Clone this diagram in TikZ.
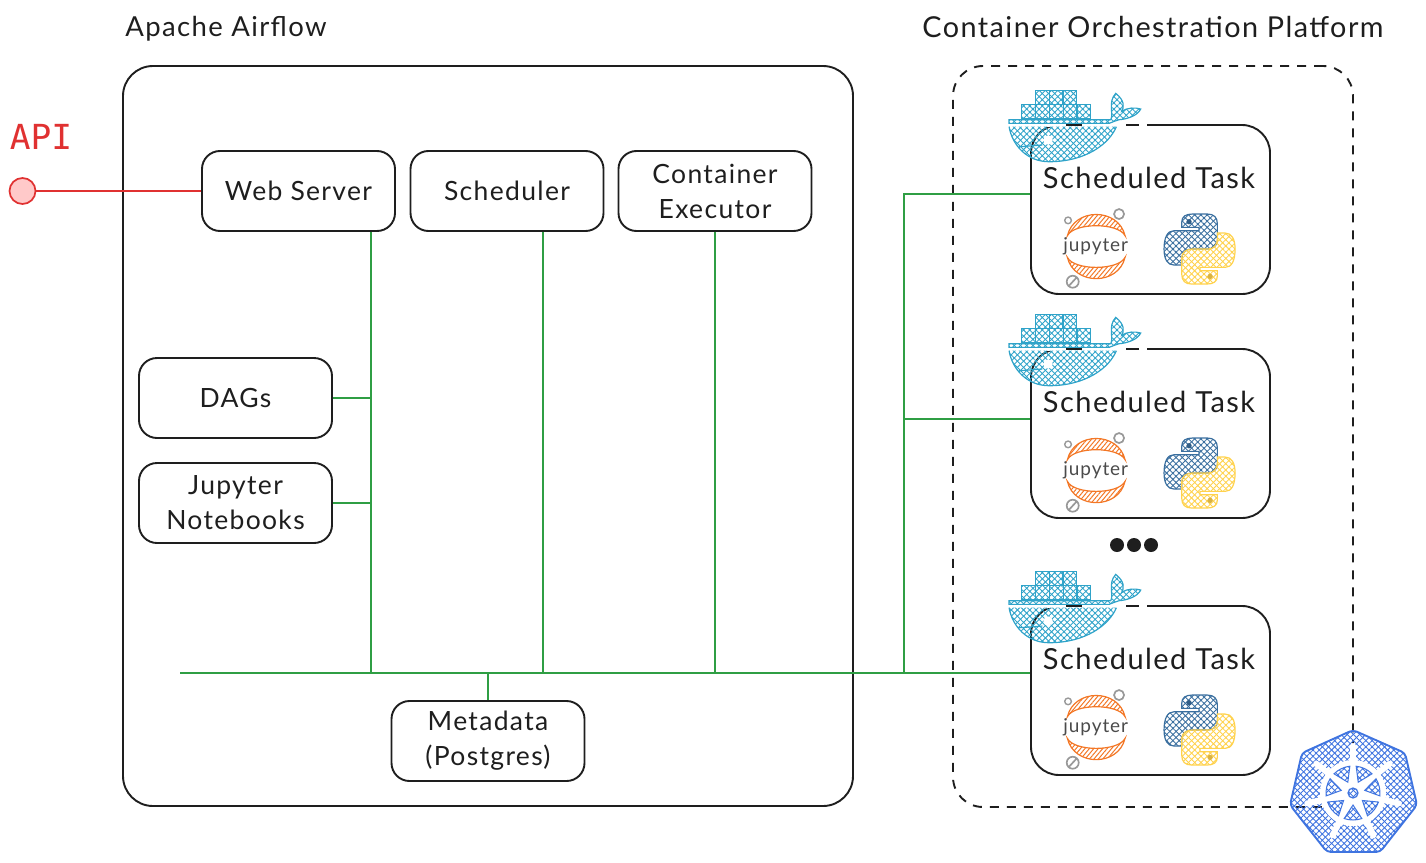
\documentclass[tikz,border=0pt]{standalone}
\usepackage{fontspec}
\setmainfont[LetterSpace=5]{Lato}
\newfontfamily\apifont{DejaVu Sans Mono}
\usetikzlibrary{patterns, patterns.meta}
\definecolor{inkblack}{HTML}{1E1E1E}
\definecolor{linkgreen}{HTML}{2F9E44}
\definecolor{apired}{HTML}{E03131}
\definecolor{apipink}{HTML}{FFC9C9}
\definecolor{dockblue}{HTML}{2FA3C9}
\definecolor{kubeblue}{HTML}{3F74E0}
\definecolor{jupyorange}{HTML}{F37726}
\definecolor{pyblue}{HTML}{3A6F9F}
\definecolor{pyyellow}{HTML}{FFD24D}
\definecolor{ringgray}{HTML}{999999}

\tikzset{
  lbl/.style={font=\fontsize{26.5}{35}\selectfont, text=inkblack, align=center, inner sep=0pt},
  toplbl/.style={lbl, font=\fontsize{28.8}{35}\selectfont},
  box/.style={draw=inkblack, line width=1.9pt, rounded corners=#1, inner sep=0pt},
  cbox/.style={box=18pt, lbl, draw=inkblack, minimum width=193pt, minimum height=80pt},
  taskbox/.style={box=28pt, minimum width=239pt, minimum height=169pt},
  conn/.style={draw=linkgreen, line width=1.7pt},
  hatch/.style={
    preaction={pattern={Lines[angle=45,distance=4.4pt,line width=.9pt]}, pattern color=#1},
    pattern={Lines[angle=-45,distance=4.4pt,line width=.9pt]}, pattern color=#1,
    draw=#1, line width=1.2pt},
  stripes/.style={pattern={Lines[angle=50,distance=3.4pt,line width=1pt]}, pattern color=#1,
    draw=#1, line width=1.2pt},
  taskicons/.pic={
    % icon coordinates measured on a 3x grid, box corner at (93,135)
    \begin{scope}[x=1pt/3, y=-1pt/3, shift={(-93,-135)}]
      % gaps in the top edge of the box behind the whale
      \foreach \gx/\gw in {140/60, 250/130, 420/25} \fill[white] (\gx,127) rectangle ++(\gw,16);
      % whale
      \foreach \i in {0,1,2} \draw[hatch=dockblue] (110+41*\i,35) rectangle ++(41,41);
      \foreach \i in {0,...,4} \draw[hatch=dockblue] (68+41.4*\i,76) rectangle ++(41.4,42);
      \draw[hatch=dockblue] (30,122) -- (335,122) .. controls (345,105) and (325,70) .. (350,43)
        .. controls (378,65) and (375,85) .. (368,97) .. controls (385,85) and (410,85) .. (425,90)
        .. controls (415,110) and (385,120) .. (360,122) .. controls (350,124) and (340,130) .. (330,133)
        -- (30,133) -- cycle;
      \path[hatch=dockblue, draw=none] (30,143) -- (352,143) .. controls (330,195) and (260,248) .. (150,248)
        .. controls (85,248) and (40,200) .. (30,143) -- cycle;
      \draw[dockblue, line width=1.2pt] (352,143) .. controls (330,195) and (260,248) .. (150,248)
        .. controls (85,248) and (40,200) .. (30,143);
      \draw[dockblue, line width=1.2pt] (60,203) -- (130,198);
      \fill[white] (147,183) circle (14);
      % title
      \node[lbl, font=\fontsize{29}{35}\selectfont] (title) at (450,298) {Scheduled Task};
      % jupyter
      \draw[stripes=jupyorange] (205,470) .. controls (225,385) and (358,385) .. (378,470)
        .. controls (358,430) and (225,430) .. cycle;
      \draw[stripes=jupyorange] (205,535) .. controls (225,620) and (358,620) .. (378,535)
        .. controls (358,575) and (225,575) .. cycle;
      \node[lbl, font=\fontsize{19}{19}\selectfont, text=inkblack!80] (jup) at (290,502) {jupyter};
      \draw[ringgray, line width=1.4pt] (207,424) circle (10);
      \draw[ringgray, line width=1.7pt] (360,405) circle (15);
      \draw[ringgray, line width=1.7pt] (221,608) circle (18) (210,620) -- (232,596);
      % python
      \foreach \pycol/\pyang in {pyblue/0, pyyellow/180} {
        \draw[hatch=\pycol, rotate around={\pyang:(601.5,510)}] (548,445) -- (548,430)
          .. controls (548,412) and (560,405) .. (580,405) -- (625,405)
          .. controls (645,405) and (655,415) .. (655,435) -- (655,485)
          .. controls (655,500) and (640,510) .. (625,510) -- (575,510)
          .. controls (558,510) and (548,525) .. (548,540) -- (548,558) -- (525,558)
          .. controls (505,558) and (495,540) .. (495,510)
          .. controls (495,475) and (505,455) .. (525,455) -- (600,455) -- (600,445) -- cycle;
        \fill[\pycol!85!black, rotate around={\pyang:(601.5,510)}] (570,428) circle (8);
      }
    \end{scope}
  },
}

\begin{document}
\begin{tikzpicture}[x=1pt, y=-1pt]
  \useasboundingbox (0,0) rectangle (1426,862);

  \node[box=30pt, minimum width=730pt, minimum height=740pt] (airflow) at (488,436) {};
  \node[box=30pt, dash pattern=on 9pt off 8pt, minimum width=400pt, minimum height=741pt] (platform) at (1153,436.5) {};
  \node[toplbl, font=\fontsize{27.5}{35}\selectfont] (airflowlbl) at (226,29) {Apache Airflow};
  \node[toplbl] (platformlbl) at (1153,27) {Container Orchestration Platform};

  \node[cbox] (web) at (298.5,191) {Web Server};
  \node[cbox] (sched) at (507,191) {Scheduler};
  \node[cbox] (exec) at (715,191) {Container\\Executor};
  \node[cbox] (dags) at (235.5,398) {DAGs};
  \node[cbox] (notebooks) at (235.5,503) {Jupyter\\Notebooks};
  \node[cbox] (meta) at (488,741) {Metadata\\(Postgres)};

  \foreach \i/\ty in {1/209.5, 2/433.5, 3/690.5} {
    \node[taskbox] (task\i) at (1150.5,\ty) {};
    \pic (t\i) at (task\i.north west) {taskicons};
  }
  \foreach \i/\dx in {1/1117, 2/1134, 3/1151} \node[circle, fill=inkblack, minimum size=14pt, inner sep=0pt] (dot\i) at (\dx,545) {};

  % api
  \node[font=\apifont\fontsize{34.5}{34.5}\selectfont, text=apired, inner sep=0pt] (apilbl) at (41,137) {API};
  \node[circle, draw=apired, fill=apipink, line width=1.7pt, minimum size=26pt, inner sep=0pt] (api) at (22.5,191) {};
  \draw[apired, line width=1.7pt] (api) -- (web);

  % bus and drops
  \coordinate (bus) at (180,673);
  \coordinate (j1) at (371,673);
  \coordinate (j2) at (543,673);
  \coordinate (j3) at (715,673);
  \coordinate (j4) at (904,673);
  \coordinate (s1) at (904,194);
  \coordinate (s2) at (904,419);
  \draw[conn] (bus) -- (bus -| task3.west);
  \draw[conn] (web.south -| j1) -- (j1);
  \draw[conn] (sched.south -| j2) -- (j2);
  \draw[conn] (exec.south -| j3) -- (j3);
  \draw[conn] (dags.east) -- (dags.east -| j1);
  \draw[conn] (notebooks.east) -- (notebooks.east -| j1);
  \draw[conn] (meta.north) -- (meta.north |- bus);
  \draw[conn] (s1 -| task1.west) -- (s1) -- (j4);
  \draw[conn] (s2 -| task2.west) -- (s2);

  % kubernetes
  \draw[hatch=kubeblue, line width=1.9pt, rounded corners=4pt] (1353,730) -- (1405,753) -- (1417,805)
    -- (1380,852) -- (1327,852) -- (1290,805) -- (1302,753) -- cycle;
  \begin{scope}[shift={(1353,793)}, y=1pt]
    \fill[white] (0,0) circle (33);
    \foreach \k in {0,...,6} \draw[white, line width=6pt, line cap=round] (0,0) -- (90+\k*360/7:47);
    \foreach \k in {0,...,6} {
      \pgfmathsetmacro{\wedge}{90+(\k+.5)*360/7}
      \path[hatch=kubeblue, line width=1pt] (\wedge:12) -- (\wedge-19:27)
        arc[start angle=\wedge-19, end angle=\wedge+19, radius=27] -- cycle;
    }
    \draw[hatch=kubeblue] (0,0) circle (5);
  \end{scope}
\end{tikzpicture}
\end{document}
